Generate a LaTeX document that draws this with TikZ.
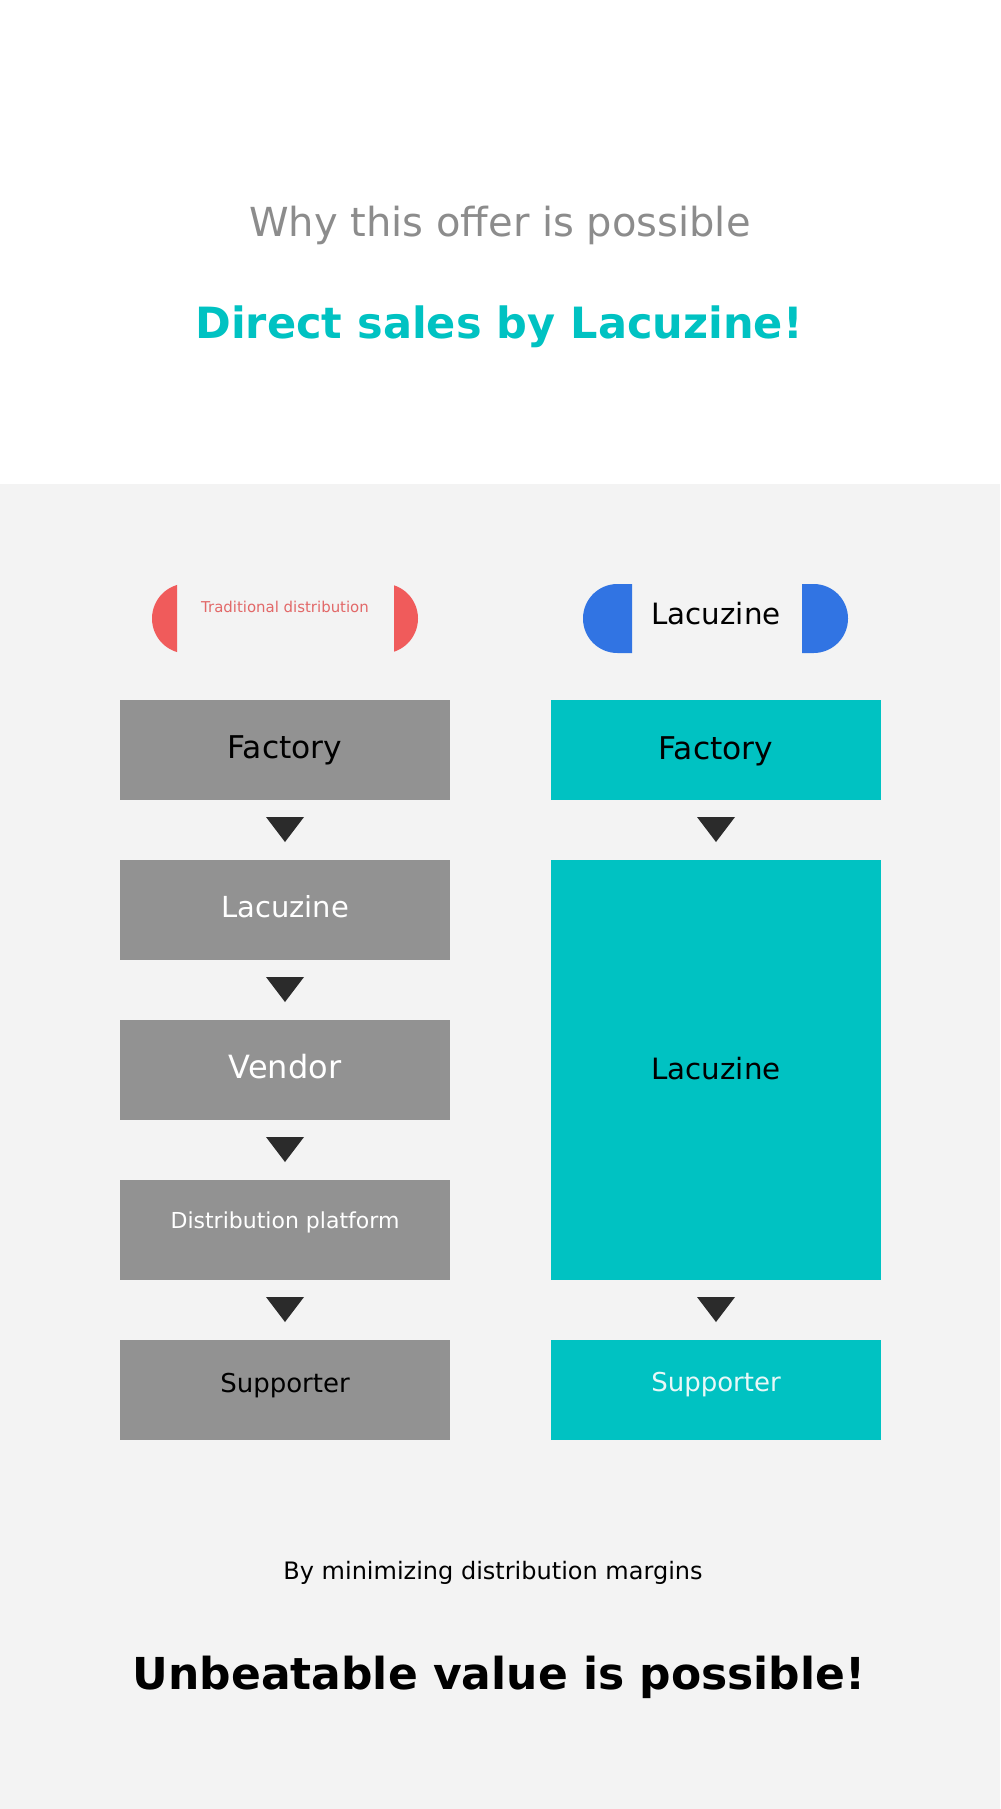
\documentclass[tikz,border=0pt]{standalone}
\usepackage{fontspec}
\setmainfont{DejaVu Sans}
\usetikzlibrary{positioning,calc}

\definecolor{pagebg}{HTML}{F3F3F3}
\definecolor{titlegray}{HTML}{8C8C8C}
\definecolor{lacteal}{HTML}{00C2C2}
\definecolor{boxgray}{HTML}{929292}
\definecolor{pillred}{HTML}{F05B5B}
\definecolor{pilltext}{HTML}{E26868}
\definecolor{pillblue}{HTML}{3174E3}
\definecolor{tridark}{HTML}{2B2B2B}
\definecolor{paletxt}{HTML}{E8F8F8}

\begin{document}
\begin{tikzpicture}[x=0.75pt, y=-0.75pt,
  node distance=45pt,
  stage/.style={minimum width=247.5pt, minimum height=75pt, inner sep=0pt, outer sep=0pt, fill=#1},
  stage/.default=boxgray,
  lbl/.style={anchor=base, inner sep=0pt, font=\fontsize{#1}{#1}\selectfont},
  tri/.style={fill=tridark}]
\useasboundingbox (0,0) rectangle (1000,1809);
\fill[white] (0,0) rectangle (1000,484);
\fill[pagebg] (0,484) rectangle (1000,1809);

% headings
\node[lbl=30pt, text=titlegray] (why) at (500,236) {Why this offer is possible};
\node[lbl=32.3pt, text=lacteal] (direct) at (499,338) {\bfseries Direct sales by Lacuzine!};

% column tags
\begin{scope}
  \clip (140,560) rectangle (177,680);
  \fill[pillred] (187,618.5) circle [radius=26.25pt];
\end{scope}
\begin{scope}
  \clip (394,560) rectangle (430,680);
  \fill[pillred] (383,618.5) circle [radius=26.25pt];
\end{scope}
\node[lbl=11.2pt, text=pilltext] (tagold) at (285,612) {Traditional distribution};
\begin{scope}
  \clip (570,560) rectangle (632,680);
  \fill[pillblue, rounded corners=25.8pt] (583,584) rectangle (848,653);
\end{scope}
\begin{scope}
  \clip (802,560) rectangle (870,680);
  \fill[pillblue, rounded corners=25.8pt] (583,584) rectangle (848,653);
\end{scope}
\node[lbl=22pt] (tagnew) at (716,624) {Lacuzine};

% traditional chain
\node[stage] (f1) at (285,750) {};
\node[stage, below=of f1] (l1) {};
\node[stage, below=of l1] (v1) {};
\node[stage, below=of v1] (d1) {};
\node[stage, below=of d1] (s1) {};
\node[lbl=23.5pt] at ($(f1.north)+(0,58)$) {Factory};
\node[lbl=21.75pt, text=white] at ($(l1.north)+(0,57)$) {Lacuzine};
\node[lbl=24pt, text=white] at ($(v1.north)+(0,58)$) {Vendor};
\node[lbl=16.5pt, text=white] at ($(d1.north)+(0,48)$) {Distribution platform};
\node[lbl=19.5pt] at ($(s1.north)+(0,52)$) {Supporter};

% direct chain
\node[stage=lacteal] (f2) at (716,750) {};
\node[stage=lacteal, below=of f2, minimum height=315pt] (l2) {};
\node[stage=lacteal, below=of l2] (s2) {};
\node[lbl=23.5pt] at ($(f2.north)+(0,59)$) {Factory};
\node[lbl=22pt] at ($(l2.north)+(0,219)$) {Lacuzine};
\node[lbl=19.5pt, text=paletxt] at ($(s2.north)+(0,51)$) {Supporter};

% down markers
\foreach \a in {f1,l1,v1,d1,f2,l2}
  \fill[tri] ($(\a.south)+(-19,17)$) -- ++(38,0) -- ++(-19,25) -- cycle;

% closing lines
\node[lbl=18pt] (why2) at (493,1579) {By minimizing distribution margins};
\node[lbl=33pt] (punch) at (499,1689) {\bfseries Unbeatable value is possible!};
\end{tikzpicture}
\end{document}
